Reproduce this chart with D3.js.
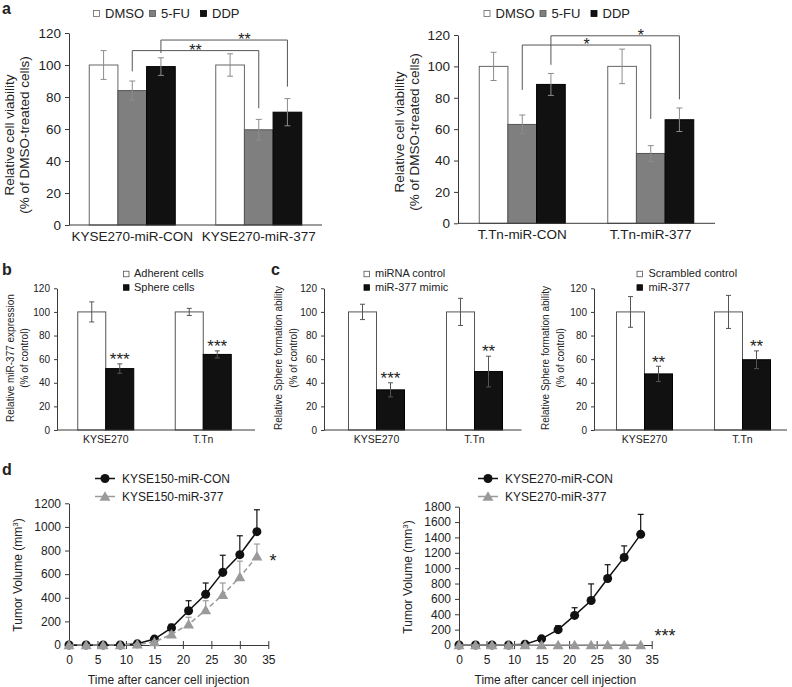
<!DOCTYPE html>
<html><head><meta charset="utf-8">
<script src="https://cdn.jsdelivr.net/npm/d3@7"></script>
<style>
body{margin:0;background:#fff}
svg{display:block}
text{font-family:"Liberation Sans",Arial,Helvetica,sans-serif;fill:#222}
</style>
</head><body>
<svg id="fig" width="792" height="687"></svg>
<script>
// ---------------- DATA ----------------
const treatments = ["DMSO", "5-FU", "DDP"];
const aLeftCats = ["KYSE270-miR-CON", "KYSE270-miR-377"];
const aLeftMeans = [[100, 84, 99], [100, 59.5, 70.5]];
const aLeftErrs = [[9, 6, 5.5], [7, 6.5, 8.5]];
// brackets: series index, bar level, left leg end, right leg end (data units)
const aLeftSig = [
  {s: 1, level: 109, leftEnd: 96, rightEnd: 73, label: "**", pos: 0.5},
  {s: 2, level: 115.6, leftEnd: 107.5, rightEnd: 86.5, label: "**", pos: 0.66}
];
const aRightCats = ["T.Tn-miR-CON", "T.Tn-miR-377"];
const aRightMeans = [[100, 63, 88.5], [100, 44.5, 66]];
const aRightErrs = [[9, 6, 7], [11, 5, 7.5]];
const aRightSig = [
  {s: 1, level: 113.6, leftEnd: 85, rightEnd: 66.5, label: "*", pos: 0.5},
  {s: 2, level: 119.5, leftEnd: 101, rightEnd: 79, label: "*", pos: 0.7}
];
const barTicks = [0, 20, 40, 60, 80, 100, 120];

const bcCats = ["KYSE270", "T.Tn"];
const bSeries = ["Adherent cells", "Sphere cells"];
const bMeans = [[100, 52], [100, 64]];
const bErrs = [[8.5, 4], [3, 3]];
const bStars = ["***", "***"];

const c1Series = ["miRNA control", "miR-377 mimic"];
const c1Means = [[100, 34], [100, 49.5]];
const c1Errs = [[6.5, 6], [11.5, 13]];
const c1Stars = ["***", "**"];

const c2Series = ["Scrambled control", "miR-377"];
const c2Means = [[100, 47.5], [100, 59.5]];
const c2Errs = [[13, 6.5], [14, 7.5]];
const c2Stars = ["**", "**"];

const days = [0, 3, 6, 9, 12, 15, 18, 21, 24, 27, 30, 33];
const xDayTicks = [0, 5, 10, 15, 20, 25, 30, 35];
const d1Names = ["KYSE150-miR-CON", "KYSE150-miR-377"];
const d1Con = [0, 0, 0, 0, 10, 50, 145, 290, 430, 615, 765, 960];
const d1ConErr = [0, 0, 0, 0, 5, 15, 30, 85, 95, 145, 160, 185];
const d1Mir = [0, 0, 0, 0, 5, 25, 90, 175, 295, 425, 575, 750];
const d1MirErr = [0, 0, 0, 0, 3, 10, 20, 60, 80, 100, 135, 105];
const d1YTicks = [0, 200, 400, 600, 800, 1000, 1200];
const d2Names = ["KYSE270-miR-CON", "KYSE270-miR-377"];
const d2Con = [0, 0, 0, 0, 10, 80, 200, 385, 580, 865, 1140, 1440];
const d2ConErr = [0, 0, 0, 0, 5, 10, 50, 100, 215, 180, 150, 260];
const d2Mir = [0, 0, 0, 0, 0, 0, 0, 0, 0, 0, 0, 0];
const d2MirErr = [0, 0, 0, 0, 0, 0, 0, 0, 0, 0, 0, 0];
const d2YTicks = [0, 200, 400, 600, 800, 1000, 1200, 1400, 1600, 1800];

// ---------------- DRAWING ----------------
const svg = d3.select("#fig");
const AX = "#3a3a3a";

function panelLetter(t, x, y) {
  svg.append("text").attr("x", x).attr("y", y).attr("font-size", 16).attr("font-weight", "bold").attr("fill", "#111").text(t);
}
panelLetter("a", 2, 14);
panelLetter("b", 2, 275);
panelLetter("c", 271, 275);
panelLetter("d", 2, 475);

function legendSquares(items, fills, strokes, o) {
  const g = svg.append("g");
  items.forEach((name, i) => {
    const x = o.x + (o.dx ? o.dx[i] : 0);
    const y = o.y + (o.dy ? o.dy * i : 0);
    g.append("rect").attr("x", x + 0.5).attr("y", y - o.sq / 2 + 0.5).attr("width", o.sq).attr("height", o.sq)
      .attr("fill", fills[i]).attr("stroke", strokes[i]).attr("stroke-width", 0.8);
    g.append("text").attr("x", x + o.gap).attr("y", y).attr("dy", "0.36em").attr("font-size", o.fs).text(name);
  });
}

function barPanel(o) {
  const g = svg.append("g");
  const x0 = d3.scaleBand().domain(o.cats).range(o.xRange);
  const nS = o.means[0].length;
  const bw = x0.bandwidth();
  const x1 = d3.scaleBand().domain(d3.range(nS)).range([(bw - o.groupW) / 2, (bw + o.groupW) / 2]);
  const y = d3.scaleLinear().domain([0, 120]).range([o.yBottom, o.yTop]);

  const flat = [];
  o.means.forEach((row, i) => row.forEach((v, j) => flat.push({i, j, v, e: o.errs[i][j]})));

  g.selectAll("rect.bar").data(flat).join("rect").attr("class", "bar")
    .attr("x", d => x0(o.cats[d.i]) + x1(d.j)).attr("y", d => y(d.v))
    .attr("width", x1.bandwidth()).attr("height", d => y(0) - y(d.v))
    .attr("fill", d => o.fills[d.j]).attr("stroke", d => o.strokes[d.j]).attr("stroke-width", 1);

  const cx = d => x0(o.cats[d.i]) + x1(d.j) + x1.bandwidth() / 2;
  const eg = g.append("g").attr("stroke", o.errColor).attr("stroke-width", 1);
  eg.selectAll("line.v").data(flat).join("line").attr("class", "v")
    .attr("x1", cx).attr("x2", cx).attr("y1", d => y(d.v - d.e)).attr("y2", d => y(d.v + d.e));
  eg.selectAll("line.t").data(flat).join("line").attr("class", "t")
    .attr("x1", d => cx(d) - o.cap).attr("x2", d => cx(d) + o.cap).attr("y1", d => y(d.v + d.e)).attr("y2", d => y(d.v + d.e));
  eg.selectAll("line.b").data(flat).join("line").attr("class", "b")
    .attr("x1", d => cx(d) - o.cap).attr("x2", d => cx(d) + o.cap).attr("y1", d => y(d.v - d.e)).attr("y2", d => y(d.v - d.e));

  // y axis
  const ya = g.append("g").attr("transform", `translate(${o.axisX},0)`)
    .call(d3.axisLeft(y).tickValues(barTicks).tickSize(o.tick).tickSizeOuter(0).tickPadding(o.tickPad));
  ya.select(".domain").attr("stroke", AX);
  ya.selectAll(".tick line").attr("stroke", AX);
  ya.selectAll(".tick text").attr("font-size", o.tickFs).attr("font-family", null).attr("fill", "#222");

  // x axis line
  g.append("line").attr("x1", o.axisX).attr("x2", o.axisEnd).attr("y1", y(0)).attr("y2", y(0)).attr("stroke", AX);
  g.selectAll("text.cat").data(o.cats).join("text").attr("class", "cat")
    .attr("x", d => x0(d) + bw / 2).attr("y", y(0) + o.catDy).attr("text-anchor", "middle")
    .attr("font-size", o.catFs).text(d => d);

  // y title (two lines)
  o.yTitle.forEach((t, k) => {
    g.append("text").attr("transform", `translate(${o.titleX[k]},${o.titleY}) rotate(-90)`)
      .attr("text-anchor", "middle").attr("dy", "0.35em").attr("font-size", o.titleFs).text(t);
  });

  // brackets
  if (o.sig) {
    const bg = g.append("g");
    o.sig.forEach(s => {
      const xa = cx({i: 0, j: s.s}), xb = cx({i: 1, j: s.s});
      bg.append("path").attr("fill", "none").attr("stroke", "#555").attr("stroke-width", 1)
        .attr("d", `M${xa},${y(s.leftEnd)}V${y(s.level)}H${xb}V${y(s.rightEnd)}`);
      bg.append("text").attr("x", xa + (xb - xa) * s.pos).attr("y", y(s.level) + o.sigDy)
        .attr("text-anchor", "middle").attr("font-size", o.sigFs).text(s.label);
    });
  }
  // stars above bars
  if (o.stars) {
    g.selectAll("text.star").data(o.stars).join("text").attr("class", "star")
      .attr("x", (d, i) => cx({i, j: 1}))
      .attr("y", (d, i) => y(o.means[i][1] + o.errs[i][1]) - 8.5 + 0.575 * o.starFs)
      .attr("text-anchor", "middle").attr("font-size", o.starFs).text(d => d);
  }
}

// Panel a
const aFills = ["#ffffff", "#7f7f7f", "#111111"];
const aStrokes = ["#666666", "#555555", "#000000"];
const aCommon = {groupW: 86, tick: 4, tickPad: 4, tickFs: 13.5, catFs: 13.5, catDy: 16, titleFs: 13.5,
  fills: aFills, strokes: aStrokes, errColor: "#8c8c8c", cap: 3, sigFs: 16, sigDy: 5};
barPanel(Object.assign({}, aCommon, {cats: aLeftCats, means: aLeftMeans, errs: aLeftErrs, sig: aLeftSig,
  xRange: [69, 322], axisX: 69, axisEnd: 322, yBottom: 225, yTop: 33,
  yTitle: ["Relative cell viability", "(% of DMSO-treated cells)"], titleX: [9, 24], titleY: 135}));
barPanel(Object.assign({}, aCommon, {cats: aRightCats, means: aRightMeans, errs: aRightErrs, sig: aRightSig,
  xRange: [458, 715], axisX: 458, axisEnd: 715, yBottom: 223.3, yTop: 35,
  yTitle: ["Relative cell viability", "(% of DMSO-treated cells)"], titleX: [399, 414], titleY: 132}));
legendSquares(treatments, aFills, aStrokes, {x: 93, y: 13, dx: [0, 56, 107], sq: 6, gap: 12, fs: 13});
legendSquares(treatments, aFills, aStrokes, {x: 483.5, y: 13, dx: [0, 56, 107], sq: 6, gap: 12, fs: 13});

// Panels b, c
const bcFills = ["#ffffff", "#111111"];
const bcStrokes = ["#555555", "#000000"];
const bcCommon = {groupW: 56, tick: 3, tickPad: 4, tickFs: 10, catFs: 10.5, catDy: 13, titleFs: 10,
  fills: bcFills, strokes: bcStrokes, errColor: "#555", cap: 2.5, starFs: 17,
  yBottom: 430, yTop: 288.3, titleY: 358};
barPanel(Object.assign({}, bcCommon, {cats: bcCats, means: bMeans, errs: bErrs, stars: bStars,
  xRange: [57, 252], axisX: 57, axisEnd: 255,
  yTitle: ["Relative miR-377 expression", "(% of control)"], titleX: [10, 24]}));
barPanel(Object.assign({}, bcCommon, {cats: bcCats, means: c1Means, errs: c1Errs, stars: c1Stars,
  xRange: [327.5, 523.5], axisX: 324, axisEnd: 521.5,
  yTitle: ["Relative Sphere formation ability", "(% of control)"], titleX: [278, 293]}));
barPanel(Object.assign({}, bcCommon, {cats: bcCats, means: c2Means, errs: c2Errs, stars: c2Stars,
  xRange: [595.5, 791.5], axisX: 594, axisEnd: 787,
  yTitle: ["Relative Sphere formation ability", "(% of control)"], titleX: [545, 560]}));
legendSquares(bSeries, bcFills, bcStrokes, {x: 123, y: 273.5, dy: 13.5, sq: 5.5, gap: 11, fs: 11});
legendSquares(c1Series, bcFills, bcStrokes, {x: 363.5, y: 273.5, dy: 13.5, sq: 5.5, gap: 11.5, fs: 11});
legendSquares(c2Series, bcFills, bcStrokes, {x: 636.5, y: 273.5, dy: 13.5, sq: 5.5, gap: 12, fs: 11});

// Panel d
function linePanel(o) {
  const g = svg.append("g");
  const x = d3.scaleLinear().domain([0, 35]).range(o.xRange);
  const y = d3.scaleLinear().domain([0, o.yMax]).range([o.yBottom, o.yTop]);

  // axes
  const ya = g.append("g").attr("transform", `translate(${o.xRange[0]},0)`)
    .call(d3.axisLeft(y).tickValues(o.yTicks).tickFormat(d3.format("d")).tickSize(4).tickSizeOuter(0).tickPadding(4));
  ya.select(".domain").attr("stroke", AX);
  ya.selectAll(".tick line").attr("stroke", AX);
  ya.selectAll(".tick text").attr("font-size", 12).attr("font-family", null).attr("fill", "#222");
  const xa = g.append("g").attr("transform", `translate(0,${o.yBottom})`)
    .call(d3.axisBottom(x).tickValues(xDayTicks).tickSize(4).tickSizeOuter(0).tickPadding(6));
  xa.select(".domain").attr("stroke", AX);
  xa.selectAll(".tick line").attr("stroke", AX).attr("y1", -4);
  xa.selectAll(".tick text").attr("font-size", 12).attr("font-family", null).attr("fill", "#222");

  const series = [
    {v: o.con, e: o.conErr, color: "#111", dash: null, marker: "circle"},
    {v: o.mir, e: o.mirErr, color: "#9a9a9a", dash: o.dash, marker: "triangle"}
  ];
  series.forEach(s => {
    const pts = days.map((d, i) => ({d, v: s.v[i], e: s.e[i]}));
    const eg = g.append("g").attr("stroke", s.color).attr("stroke-width", 1.2);
    eg.selectAll("line.v").data(pts.filter(p => p.e > 0)).join("line").attr("class", "v")
      .attr("x1", p => x(p.d)).attr("x2", p => x(p.d)).attr("y1", p => y(p.v)).attr("y2", p => y(p.v + p.e));
    eg.selectAll("line.t").data(pts.filter(p => p.e > 0)).join("line").attr("class", "t")
      .attr("x1", p => x(p.d) - 3).attr("x2", p => x(p.d) + 3).attr("y1", p => y(p.v + p.e)).attr("y2", p => y(p.v + p.e));
    g.append("path").datum(pts).attr("fill", "none").attr("stroke", s.color).attr("stroke-width", 1.5)
      .attr("stroke-dasharray", s.dash).attr("d", d3.line().x(p => x(p.d)).y(p => y(p.v)));
    const sym = s.marker === "circle" ? d3.symbolCircle : d3.symbolTriangle;
    const size = s.marker === "circle" ? 64 : 52;
    g.selectAll(null).data(pts).join("path")
      .attr("transform", p => `translate(${x(p.d)},${y(p.v) + (s.marker === "triangle" ? 1 : 0)})`)
      .attr("d", d3.symbol(sym, size)).attr("fill", s.color);
  });

  // legend
  o.names.forEach((n, i) => {
    const ly = o.legY + i * 18;
    const s = series[i];
    g.append("line").attr("x1", o.legX).attr("x2", o.legX + 20).attr("y1", ly).attr("y2", ly)
      .attr("stroke", s.color).attr("stroke-width", 1.5);
    g.append("path").attr("transform", `translate(${o.legX + 10},${ly + (i ? 1 : 0)})`)
      .attr("d", d3.symbol(i ? d3.symbolTriangle : d3.symbolCircle, i ? 52 : 64)).attr("fill", s.color);
    g.append("text").attr("x", o.legX + 27).attr("y", ly).attr("dy", "0.36em").attr("font-size", 12).text(n);
  });

  g.append("text").attr("x", (o.xRange[0] + o.xRange[1]) / 2).attr("y", 684).attr("text-anchor", "middle")
    .attr("font-size", 12).text("Time after cancer cell injection");
  const t = g.append("text").attr("transform", `translate(${o.titleX},${o.titleY}) rotate(-90)`)
    .attr("text-anchor", "middle").attr("dy", "0.35em").attr("font-size", 12);
  t.append("tspan").text("Tumor Volume (mm");
  t.append("tspan").attr("font-size", 8).attr("dy", "-0.5em").text("3");
  t.append("tspan").attr("dy", "0.3em").text(")");

  g.append("text").attr("x", o.star[0]).attr("y", o.star[1] + 0.575 * 18).attr("text-anchor", "middle")
    .attr("font-size", 18).text(o.starText);
}

linePanel({xRange: [69, 268.3], yMax: 1200, yBottom: 645, yTop: 503.3, yTicks: d1YTicks,
  con: d1Con, conErr: d1ConErr, mir: d1Mir, mirErr: d1MirErr, dash: "5,3", names: d1Names,
  legX: 95, legY: 478.5, titleX: 18, titleY: 575, star: [273, 557], starText: "*"});
linePanel({xRange: [459, 651.7], yMax: 1800, yBottom: 645, yTop: 506.7, yTicks: d2YTicks,
  con: d2Con, conErr: d2ConErr, mir: d2Mir, mirErr: d2MirErr, dash: null, names: d2Names,
  legX: 478, legY: 478.5, titleX: 408, titleY: 577, star: [665, 632], starText: "***"});
</script>
</body></html>
